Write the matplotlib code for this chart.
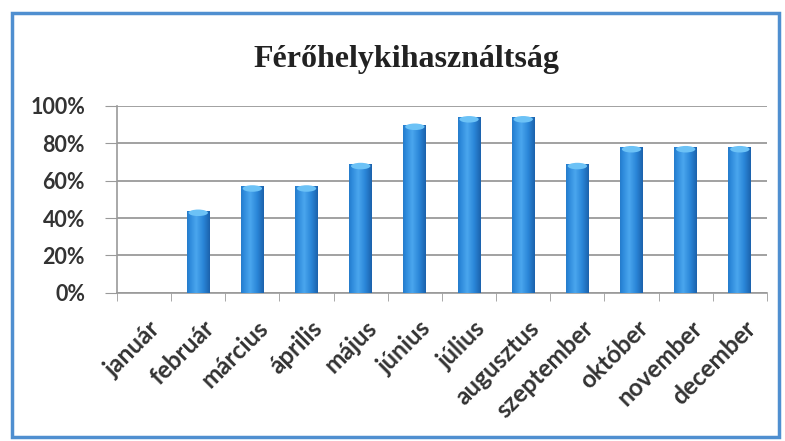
import numpy as np
import matplotlib
matplotlib.use("Agg")
import matplotlib.pyplot as plt
from matplotlib.patches import Rectangle, Ellipse

months = ["január", "február", "március", "április", "május", "június",
          "július", "augusztus", "szeptember", "október", "november", "december"]
occupancy = [0.0, 0.44, 0.57, 0.57, 0.69, 0.90, 0.94, 0.94, 0.69, 0.78, 0.78, 0.78]
y_ticks = [0.0, 0.2, 0.4, 0.6, 0.8, 1.0]
y_labels = ["0%", "20%", "40%", "60%", "80%", "100%"]
title = "Férőhelykihasználtság"

fig = plt.figure(figsize=(7.85, 4.41), dpi=100)
fig.patch.set_facecolor("white")

# blue chart frame
fig.patches.append(Rectangle((12 / 785, 4 / 441), 767 / 785, 424 / 441,
                             transform=fig.transFigure, fill=False,
                             edgecolor="#4f8fd0", linewidth=2.5))

ax = fig.add_axes([0.149, 0.336, 0.828, 0.424])
x = np.arange(len(months))
bars = ax.bar(x, occupancy, width=0.42, color="#2a86d8", zorder=3)

# cylinder-like shading
grad = np.linspace(0, 1, 64)
shade = np.vstack([1 - np.abs(grad - 0.4) * 1.6] * 2)
cmap = matplotlib.colors.LinearSegmentedColormap.from_list(
    "bar", ["#1a5fa8", "#2a86d8", "#4aa6ee"])
for b, v in zip(bars, occupancy):
    if v <= 0:
        continue
    x0, w = b.get_x(), b.get_width()
    im = ax.imshow(shade, cmap=cmap, aspect="auto", extent=(x0, x0 + w, 0, v),
                   zorder=3.5, vmin=0, vmax=1)
    im.set_clip_path(b)
    ax.add_patch(Ellipse((x0 + w / 2, v - 0.012), w * 0.85, 0.035,
                         facecolor="#6cc2f6", edgecolor="none", zorder=4))

ax.set_xlim(-0.5, len(months) - 0.5)
ax.set_ylim(0, 1.0)
ax.set_yticks(y_ticks)
ax.set_yticklabels(y_labels)
ax.yaxis.grid(True, color="#9a9a9a", linewidth=1.3, zorder=0)
ax.set_axisbelow(True)

for s in ["top", "right"]:
    ax.spines[s].set_visible(False)
ax.spines["left"].set_color("#9a9a9a")
ax.spines["bottom"].set_color("#9a9a9a")
ax.spines["left"].set_linewidth(1.2)
ax.spines["bottom"].set_linewidth(1.2)

ax.set_xticks(x + 0.08)
ax.set_xticklabels(months, rotation=45, ha="right", rotation_mode="anchor")
ax.set_xticks(np.arange(len(months) + 1) - 0.5, minor=True)
ax.tick_params(axis="x", which="major", length=0, pad=17)
ax.tick_params(axis="x", which="minor", length=6, color="#9a9a9a")
ax.tick_params(axis="y", length=9, color="#9a9a9a", pad=14)

for lab in ax.get_yticklabels():
    lab.set_fontfamily("Lato")
    lab.set_fontweight("bold")
    lab.set_fontsize(15.5)
    lab.set_color("#333333")
for lab in ax.get_xticklabels():
    lab.set_fontfamily("Lato")
    lab.set_fontweight("bold")
    lab.set_fontsize(17.5)
    lab.set_color("#333333")

fig.text(0.518, 0.865, title, ha="center", va="center",
         fontsize=23, fontweight="bold", family="Liberation Serif", color="#222222")

fig.savefig("out.png", dpi=100)
